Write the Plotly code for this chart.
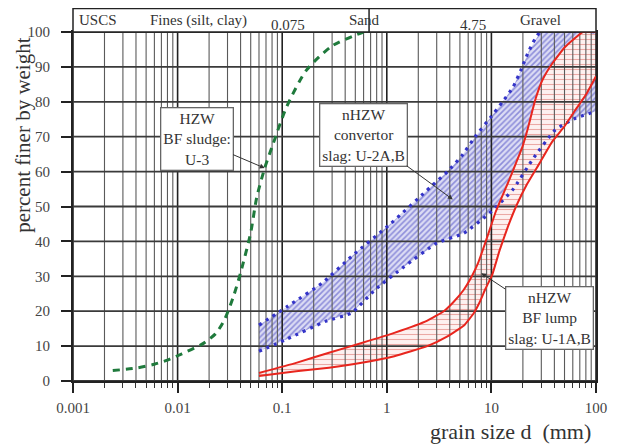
import numpy as np
import plotly.graph_objects as go

# ---------------- data ----------------
sludge_d = [0.0024, 0.004, 0.006, 0.008, 0.011, 0.017, 0.023, 0.028, 0.034, 0.04,
            0.05, 0.057, 0.068, 0.082, 0.11, 0.17, 0.3, 0.6]
sludge_p = [3.0, 3.7, 4.8, 6.0, 7.8, 10.5, 13.5, 17.5, 24.0, 31.0,
            42.5, 52.5, 61.0, 68.0, 78.5, 89.0, 96.0, 100.0]

conv_upper_d = [0.06, 0.125, 0.24, 0.46, 1.1, 2.6, 3.8, 5.2, 7.2, 9.8, 12.8, 16.1, 19.1, 22.9, 29.4, 100]
conv_upper_p = [16.0, 22.3, 28.0, 35.7, 45.2, 55.5, 60.0, 64.5, 70.5, 75.5, 80.0, 84.2, 89.0, 94.7, 100.0, 100.0]
conv_lower_d = [0.06, 0.109, 0.26, 0.46, 0.77, 1.47, 3.0, 5.4, 9.6, 15.9, 24.5, 40.7, 62.8, 100]
conv_lower_p = [8.5, 11.9, 17.1, 19.5, 26.1, 32.8, 39.5, 42.3, 48.1, 54.7, 63.3, 71.9, 75.2, 77.3]

lump_upper_d = [0.06, 0.136, 0.28, 0.575, 1.18, 2.44, 3.5, 4.3, 5.4, 6.5, 7.5, 8.6, 9.8,
                11.0, 12.5, 14.8, 17.1, 19.8, 22.1, 24.7, 26.8, 30.6, 38.0, 50.6, 75.0, 100]
lump_upper_p = [2.3, 5.2, 8.1, 10.9, 13.8, 17.3, 20.0, 22.5, 26.0, 30.0, 34.0, 39.0, 44.0,
                48.5, 52.5, 57.6, 62.3, 67.1, 71.9, 77.6, 81.4, 86.1, 90.9, 95.7, 100.0, 100.0]
lump_lower_d = [0.06, 0.136, 0.28, 0.575, 1.18, 2.44, 3.8, 5.5, 6.8, 7.7, 8.8, 10.2, 12.0,
                14.5, 17.5, 22.0, 29.0, 38.0, 50.0, 63.0, 80.0, 100]
lump_lower_p = [1.4, 2.8, 3.8, 5.2, 7.1, 10.0, 12.8, 16.0, 19.5, 22.5, 26.5, 30.5, 37.5,
                44.5, 50.5, 56.5, 62.5, 68.5, 73.0, 77.5, 82.0, 87.3]

x_tick_vals = [0.001, 0.01, 0.1, 1, 10, 100]
x_tick_text = ["0.001", "0.01", "0.1", "1", "10", "100"]
x_minor_vals = [m * 10.0 ** e for e in range(-3, 2) for m in range(2, 10)]
y_tick_vals = list(range(0, 101, 10))

uscs_limits = [0.075, 4.75]
uscs_labels = ["USCS", "Fines (silt, clay)", "Sand", "Gravel"]

# annotation targets (data units)
sludge_tip = (0.068, 61.0)
conv_tip = (4.28, 52.0)
lump_tip = (8.0, 30.9)

SERIF = "Liberation Serif, Times New Roman, serif"

fig = go.Figure()

# ---------------- hatched bands ----------------
fig.add_trace(go.Scatter(
    x=conv_upper_d + conv_lower_d[::-1], y=conv_upper_p + conv_lower_p[::-1],
    mode="none", fill="toself", fillcolor="rgba(0,0,0,0)",
    fillpattern=dict(shape="/", fgcolor="#3f3fc0", bgcolor="#dcdcf4", size=4, solidity=0.4),
    hoverinfo="skip", showlegend=False))
fig.add_trace(go.Scatter(
    x=lump_upper_d + lump_lower_d[::-1], y=lump_upper_p + lump_lower_p[::-1],
    mode="none", fill="toself", fillcolor="rgba(0,0,0,0)",
    fillpattern=dict(shape="-", fgcolor="#d9625a", bgcolor="#fdf1f0", size=5, solidity=0.22),
    hoverinfo="skip", showlegend=False))

# ---------------- grid drawn above the hatch ----------------
def vlines(vals):
    xs, ys = [], []
    for v in vals:
        xs += [v, v, None]
        ys += [0, 100, None]
    return xs, ys

def hlines(vals):
    xs, ys = [], []
    for v in vals:
        xs += [x_tick_vals[0], x_tick_vals[-1], None]
        ys += [v, v, None]
    return xs, ys

gx, gy = vlines(x_minor_vals)
fig.add_trace(go.Scatter(x=gx, y=gy, mode="lines", line=dict(color="#5a5a5a", width=1.1),
                         hoverinfo="skip", showlegend=False))
gx, gy = vlines(x_tick_vals)
fig.add_trace(go.Scatter(x=gx, y=gy, mode="lines", line=dict(color="#222222", width=1.6),
                         hoverinfo="skip", showlegend=False))
gx, gy = hlines(y_tick_vals)
fig.add_trace(go.Scatter(x=gx, y=gy, mode="lines", line=dict(color="#3a3a3a", width=1.8),
                         hoverinfo="skip", showlegend=False))

# ---------------- curves ----------------
fig.add_trace(go.Scatter(x=sludge_d, y=sludge_p, mode="lines", line_shape="spline",
                         line=dict(color="#1f7a3c", width=3, dash="7px,6px", smoothing=0.7),
                         hoverinfo="skip", showlegend=False))
for xd, yp in [(conv_upper_d, conv_upper_p), (conv_lower_d, conv_lower_p)]:
    fig.add_trace(go.Scatter(x=xd, y=yp, mode="lines", line_shape="spline",
                             line=dict(color="#3434c8", width=3.2, dash="3px,5px", smoothing=0.5),
                             hoverinfo="skip", showlegend=False))
for xd, yp in [(lump_upper_d, lump_upper_p), (lump_lower_d, lump_lower_p)]:
    fig.add_trace(go.Scatter(x=xd, y=yp, mode="lines", line_shape="spline",
                             line=dict(color="#e8261e", width=2, smoothing=0.4),
                             hoverinfo="skip", showlegend=False))

# ---------------- header box (USCS classes) ----------------
top = 1.0673
fig.add_shape(type="rect", xref="paper", yref="paper", x0=0, x1=1, y0=1, y1=top,
              line=dict(color="#222", width=1.5), fillcolor="white", layer="above")
for lim in uscs_limits:
    fig.add_shape(type="line", xref="x", yref="paper", x0=np.log10(lim), x1=np.log10(lim),
                  y0=1, y1=top, line=dict(color="#222", width=1.5))

hdr_font = dict(family=SERIF, size=15, color="#333")
fig.add_annotation(text=uscs_labels[0], xref="paper", yref="paper", x=0.007, y=1.034,
                   xanchor="left", yanchor="middle", showarrow=False, font=hdr_font)
fig.add_annotation(text=uscs_labels[1], xref="paper", yref="paper", x=0.2406, y=1.034,
                   xanchor="center", yanchor="middle", showarrow=False, font=hdr_font)
fig.add_annotation(text=uscs_labels[2], xref="paper", yref="paper", x=0.558, y=1.034,
                   xanchor="center", yanchor="middle", showarrow=False, font=hdr_font)
fig.add_annotation(text=uscs_labels[3], xref="paper", yref="paper", x=0.8947, y=1.034,
                   xanchor="center", yanchor="middle", showarrow=False, font=hdr_font)
for lim, txt in zip(uscs_limits, ["0.075", "4.75"]):
    fig.add_annotation(text=txt, xref="x", yref="paper", x=np.log10(lim), y=1.02,
                       xanchor="left", yanchor="middle", showarrow=False, font=hdr_font)

# ---------------- callout boxes ----------------
box_font = dict(family=SERIF, size=15.5, color="#333")
callouts = [
    ("HZW<br>BF sludge:<br>U-3", sludge_tip, -68, -29),
    ("nHZW<br>convertor<br>slag: U-2A,B", conv_tip, -89, -65),
    ("nHZW<br>BF lump<br>slag: U-1A,B", lump_tip, 68, 45),
]
for txt, (tx, ty), axp, ayp in callouts:
    fig.add_annotation(text=txt, x=np.log10(tx), y=ty, xref="x", yref="y",
                       ax=axp, ay=ayp, showarrow=True, arrowhead=2, arrowsize=1,
                       arrowwidth=1, arrowcolor="#333", standoff=0,
                       bgcolor="white", bordercolor="#666", borderwidth=1.3, borderpad=2,
                       font=box_font, align="center")

# ---------------- axis titles ----------------
fig.add_annotation(text="percent finer by weight", xref="paper", yref="paper",
                   x=-0.0959, y=0.705, textangle=-90, showarrow=False,
                   font=dict(family=SERIF, size=21, color="#333"),
                   xanchor="center", yanchor="middle")
fig.add_annotation(text="grain size d&nbsp;&nbsp;(mm)", xref="paper", yref="paper",
                   x=0.836, y=-0.145, showarrow=False,
                   font=dict(family=SERIF, size=22, color="#333"),
                   xanchor="center", yanchor="middle")

# The page body has an 8px default margin, so the figure is 8px smaller
fig.update_layout(
    width=611, height=436,
    margin=dict(l=65, r=14, t=24, b=63),
    paper_bgcolor="white", plot_bgcolor="white",
    font=dict(family=SERIF, color="#444"),
    showlegend=False,
)
fig.update_xaxes(
    type="log", range=[-3, 2], showgrid=False, zeroline=False,
    tickmode="array", tickvals=x_tick_vals, ticktext=x_tick_text,
    ticks="outside", ticklen=10, tickwidth=1.5, tickcolor="#222",
    ticklabelstandoff=2,
    tickfont=dict(family=SERIF, size=15, color="#444"),
    minor=dict(tickmode="array", tickvals=x_minor_vals, ticks="outside", ticklen=5,
               tickwidth=1.2, tickcolor="#333", showgrid=False),
    showline=True, linecolor="#222", linewidth=1.8, mirror=True,
)
fig.update_yaxes(
    range=[0, 100], showgrid=False, zeroline=False,
    tickmode="array", tickvals=y_tick_vals,
    ticks="outside", ticklen=10, tickwidth=1.5, tickcolor="#222",
    ticklabelstandoff=8,
    tickfont=dict(family=SERIF, size=15, color="#444"),
    showline=True, linecolor="#222", linewidth=1.8, mirror=True,
)

fig.write_html("out.html")
